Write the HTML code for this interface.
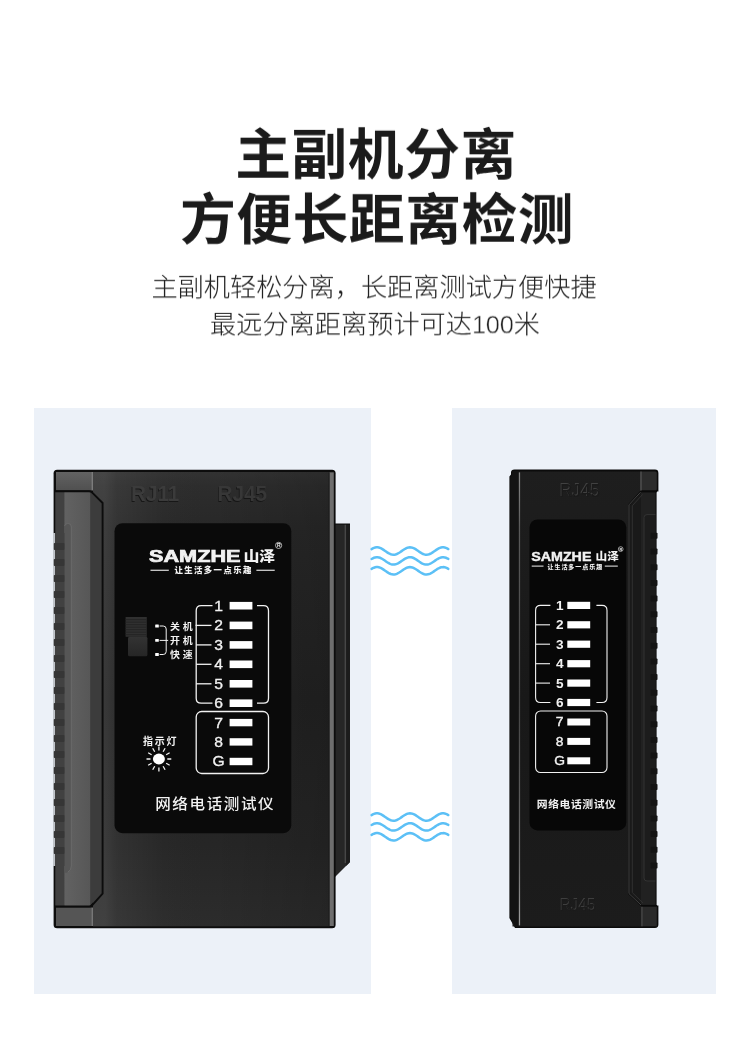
<!DOCTYPE html>
<html lang="zh-CN">
<head>
<meta charset="utf-8">
<title>主副机分离 方便长距离检测</title>
<style>
html,body{margin:0;padding:0;background:#fff;}
body{width:750px;height:1040px;position:relative;overflow:hidden;font-family:"Liberation Sans","Noto Sans CJK SC",sans-serif;}
.t{position:absolute;left:0;width:750px;text-align:center;white-space:nowrap;color:#1b1b1b;will-change:transform;}
.h1{font-weight:700;font-size:55.8px;line-height:66px;letter-spacing:0.5px;transform:scaleY(0.977);transform-origin:50% 0;}
.sub{font-weight:300;font-size:26.2px;line-height:38px;color:#222;transform:scaleY(0.977);transform-origin:50% 0;}
.n{font-size:25.4px;-webkit-text-stroke:0.45px #fff;letter-spacing:-0.2px;}
.panel{position:absolute;background:#ecf1f8;}
svg{position:absolute;left:0;top:0;will-change:transform;}
svg text{font-family:"Liberation Sans","Noto Sans CJK SC",sans-serif;}
</style>
</head>
<body>
<div class="t h1" style="top:123px;left:1.2px;">主副机分离</div>
<div class="t h1" style="top:188.4px;left:1.5px;">方便长距离检测</div>
<div class="t sub" style="top:269.35px;left:-0.9px;">主副机轻松分离，长距离测试方便快捷</div>
<div class="t sub" style="top:306.35px;left:-0.4px;">最远分离距离预计可达<span class="n">100</span>米</div>
<div class="panel" style="left:34px;top:407.7px;width:336.8px;height:586.7px;"></div>
<div class="panel" style="left:452px;top:407.7px;width:263.8px;height:586.7px;"></div>

<svg width="750" height="1040" viewBox="0 0 750 1040">
<defs>
<linearGradient id="lbody" x1="0" y1="0" x2="0" y2="1">
<stop offset="0" stop-color="#323232"/><stop offset="0.03" stop-color="#2d2d2d"/><stop offset="0.12" stop-color="#282828"/><stop offset="0.5" stop-color="#222222"/><stop offset="0.82" stop-color="#262626"/><stop offset="1" stop-color="#2c2c2c"/>
</linearGradient>
<linearGradient id="lbodyx" x1="0" y1="0" x2="1" y2="0">
<stop offset="0" stop-color="#fff" stop-opacity="0.10"/><stop offset="0.05" stop-color="#fff" stop-opacity="0.10"/><stop offset="0.1" stop-color="#fff" stop-opacity="0.055"/><stop offset="0.3" stop-color="#fff" stop-opacity="0.01"/><stop offset="0.5" stop-color="#000" stop-opacity="0"/><stop offset="1" stop-color="#000" stop-opacity="0.14"/>
</linearGradient>
<linearGradient id="lcap" x1="0" y1="0" x2="0" y2="1">
<stop offset="0" stop-color="#626262"/><stop offset="1" stop-color="#505050"/>
</linearGradient>
<linearGradient id="lstrip" x1="0" y1="0" x2="1" y2="0">
<stop offset="0" stop-color="#626262"/><stop offset="1" stop-color="#575757"/>
</linearGradient>
<linearGradient id="swg" x1="0" y1="0" x2="0" y2="1">
<stop offset="0" stop-color="#333"/><stop offset="1" stop-color="#262626"/>
</linearGradient>
<linearGradient id="rhl" x1="0" y1="0" x2="0" y2="1">
<stop offset="0" stop-color="#8a8a8a"/><stop offset="0.12" stop-color="#5a5a5a"/><stop offset="0.5" stop-color="#444"/><stop offset="0.85" stop-color="#6a6a6a"/><stop offset="1" stop-color="#a0a0a0"/>
</linearGradient>
<linearGradient id="rbody" x1="0" y1="0" x2="0" y2="1">
<stop offset="0" stop-color="#1e1e1e"/><stop offset="0.5" stop-color="#181818"/><stop offset="1" stop-color="#1c1c1c"/>
</linearGradient>
</defs>
<path d="M371.6 549.09 L372.8 548.42 L374.0 547.89 L375.2 547.52 L376.4 547.32 L377.6 547.32 L378.8 547.51 L380.0 547.88 L381.2 548.42 L382.4 549.08 L383.6 549.85 L384.8 550.67 L386.0 551.51 L387.2 552.33 L388.4 553.08 L389.6 553.71 L390.8 554.21 L392.0 554.54 L393.2 554.69 L394.4 554.65 L395.6 554.42 L396.8 554.01 L398.0 553.44 L399.2 552.75 L400.4 551.97 L401.6 551.13 L402.8 550.29 L404.0 549.49 L405.2 548.77 L406.4 548.16 L407.6 547.69 L408.8 547.40 L410.0 547.30 L411.1 547.39 L412.3 547.66 L413.5 548.11 L414.7 548.71 L415.9 549.43 L417.1 550.22 L418.3 551.06 L419.5 551.90 L420.7 552.69 L421.9 553.39 L423.1 553.97 L424.3 554.39 L425.5 554.64 L426.7 554.70 L427.9 554.56 L429.1 554.25 L430.3 553.76 L431.5 553.13 L432.7 552.39 L433.9 551.58 L435.1 550.74 L436.3 549.91 L437.5 549.14 L438.7 548.47 L439.9 547.92 L441.1 547.54 L442.3 547.33 L443.5 547.32 L444.7 547.49 L445.9 547.85 L447.1 548.37 L448.3 549.03" fill="none" stroke="#5cc0f6" stroke-width="2.5" stroke-linecap="round"/>
<path d="M371.6 558.99 L372.8 558.32 L374.0 557.79 L375.2 557.42 L376.4 557.22 L377.6 557.22 L378.8 557.41 L380.0 557.78 L381.2 558.32 L382.4 558.98 L383.6 559.75 L384.8 560.57 L386.0 561.41 L387.2 562.23 L388.4 562.98 L389.6 563.61 L390.8 564.11 L392.0 564.44 L393.2 564.59 L394.4 564.55 L395.6 564.32 L396.8 563.91 L398.0 563.34 L399.2 562.65 L400.4 561.87 L401.6 561.03 L402.8 560.19 L404.0 559.39 L405.2 558.67 L406.4 558.06 L407.6 557.59 L408.8 557.30 L410.0 557.20 L411.1 557.29 L412.3 557.56 L413.5 558.01 L414.7 558.61 L415.9 559.33 L417.1 560.12 L418.3 560.96 L419.5 561.80 L420.7 562.59 L421.9 563.29 L423.1 563.87 L424.3 564.29 L425.5 564.54 L426.7 564.60 L427.9 564.46 L429.1 564.15 L430.3 563.66 L431.5 563.03 L432.7 562.29 L433.9 561.48 L435.1 560.64 L436.3 559.81 L437.5 559.04 L438.7 558.37 L439.9 557.82 L441.1 557.44 L442.3 557.23 L443.5 557.22 L444.7 557.39 L445.9 557.75 L447.1 558.27 L448.3 558.93" fill="none" stroke="#5cc0f6" stroke-width="2.5" stroke-linecap="round"/>
<path d="M371.6 568.89 L372.8 568.22 L374.0 567.69 L375.2 567.32 L376.4 567.12 L377.6 567.12 L378.8 567.31 L380.0 567.68 L381.2 568.22 L382.4 568.88 L383.6 569.65 L384.8 570.47 L386.0 571.31 L387.2 572.13 L388.4 572.88 L389.6 573.51 L390.8 574.01 L392.0 574.34 L393.2 574.49 L394.4 574.45 L395.6 574.22 L396.8 573.81 L398.0 573.24 L399.2 572.55 L400.4 571.77 L401.6 570.93 L402.8 570.09 L404.0 569.29 L405.2 568.57 L406.4 567.96 L407.6 567.49 L408.8 567.20 L410.0 567.10 L411.1 567.19 L412.3 567.46 L413.5 567.91 L414.7 568.51 L415.9 569.23 L417.1 570.02 L418.3 570.86 L419.5 571.70 L420.7 572.49 L421.9 573.19 L423.1 573.77 L424.3 574.19 L425.5 574.44 L426.7 574.50 L427.9 574.36 L429.1 574.05 L430.3 573.56 L431.5 572.93 L432.7 572.19 L433.9 571.38 L435.1 570.54 L436.3 569.71 L437.5 568.94 L438.7 568.27 L439.9 567.72 L441.1 567.34 L442.3 567.13 L443.5 567.12 L444.7 567.29 L445.9 567.65 L447.1 568.17 L448.3 568.83" fill="none" stroke="#5cc0f6" stroke-width="2.5" stroke-linecap="round"/>

<path d="M371.6 815.09 L372.8 814.42 L374.0 813.89 L375.2 813.52 L376.4 813.32 L377.6 813.32 L378.8 813.51 L380.0 813.88 L381.2 814.42 L382.4 815.08 L383.6 815.85 L384.8 816.67 L386.0 817.51 L387.2 818.33 L388.4 819.08 L389.6 819.71 L390.8 820.21 L392.0 820.54 L393.2 820.69 L394.4 820.65 L395.6 820.42 L396.8 820.01 L398.0 819.44 L399.2 818.75 L400.4 817.97 L401.6 817.13 L402.8 816.29 L404.0 815.49 L405.2 814.77 L406.4 814.16 L407.6 813.69 L408.8 813.40 L410.0 813.30 L411.1 813.39 L412.3 813.66 L413.5 814.11 L414.7 814.71 L415.9 815.43 L417.1 816.22 L418.3 817.06 L419.5 817.90 L420.7 818.69 L421.9 819.39 L423.1 819.97 L424.3 820.39 L425.5 820.64 L426.7 820.70 L427.9 820.56 L429.1 820.25 L430.3 819.76 L431.5 819.13 L432.7 818.39 L433.9 817.58 L435.1 816.74 L436.3 815.91 L437.5 815.14 L438.7 814.47 L439.9 813.92 L441.1 813.54 L442.3 813.33 L443.5 813.32 L444.7 813.49 L445.9 813.85 L447.1 814.37 L448.3 815.03" fill="none" stroke="#5cc0f6" stroke-width="2.5" stroke-linecap="round"/>
<path d="M371.6 824.99 L372.8 824.32 L374.0 823.79 L375.2 823.42 L376.4 823.22 L377.6 823.22 L378.8 823.41 L380.0 823.78 L381.2 824.32 L382.4 824.98 L383.6 825.75 L384.8 826.57 L386.0 827.41 L387.2 828.23 L388.4 828.98 L389.6 829.61 L390.8 830.11 L392.0 830.44 L393.2 830.59 L394.4 830.55 L395.6 830.32 L396.8 829.91 L398.0 829.34 L399.2 828.65 L400.4 827.87 L401.6 827.03 L402.8 826.19 L404.0 825.39 L405.2 824.67 L406.4 824.06 L407.6 823.59 L408.8 823.30 L410.0 823.20 L411.1 823.29 L412.3 823.56 L413.5 824.01 L414.7 824.61 L415.9 825.33 L417.1 826.12 L418.3 826.96 L419.5 827.80 L420.7 828.59 L421.9 829.29 L423.1 829.87 L424.3 830.29 L425.5 830.54 L426.7 830.60 L427.9 830.46 L429.1 830.15 L430.3 829.66 L431.5 829.03 L432.7 828.29 L433.9 827.48 L435.1 826.64 L436.3 825.81 L437.5 825.04 L438.7 824.37 L439.9 823.82 L441.1 823.44 L442.3 823.23 L443.5 823.22 L444.7 823.39 L445.9 823.75 L447.1 824.27 L448.3 824.93" fill="none" stroke="#5cc0f6" stroke-width="2.5" stroke-linecap="round"/>
<path d="M371.6 834.89 L372.8 834.22 L374.0 833.69 L375.2 833.32 L376.4 833.12 L377.6 833.12 L378.8 833.31 L380.0 833.68 L381.2 834.22 L382.4 834.88 L383.6 835.65 L384.8 836.47 L386.0 837.31 L387.2 838.13 L388.4 838.88 L389.6 839.51 L390.8 840.01 L392.0 840.34 L393.2 840.49 L394.4 840.45 L395.6 840.22 L396.8 839.81 L398.0 839.24 L399.2 838.55 L400.4 837.77 L401.6 836.93 L402.8 836.09 L404.0 835.29 L405.2 834.57 L406.4 833.96 L407.6 833.49 L408.8 833.20 L410.0 833.10 L411.1 833.19 L412.3 833.46 L413.5 833.91 L414.7 834.51 L415.9 835.23 L417.1 836.02 L418.3 836.86 L419.5 837.70 L420.7 838.49 L421.9 839.19 L423.1 839.77 L424.3 840.19 L425.5 840.44 L426.7 840.50 L427.9 840.36 L429.1 840.05 L430.3 839.56 L431.5 838.93 L432.7 838.19 L433.9 837.38 L435.1 836.54 L436.3 835.71 L437.5 834.94 L438.7 834.27 L439.9 833.72 L441.1 833.34 L442.3 833.13 L443.5 833.12 L444.7 833.29 L445.9 833.65 L447.1 834.17 L448.3 834.83" fill="none" stroke="#5cc0f6" stroke-width="2.5" stroke-linecap="round"/>

<g id="left-device">
<path d="M334 524 H350 V862 L334 878 Z" fill="#262626"/>
<rect x="344.6" y="524" width="1.6" height="339" fill="#474747"/>
<path d="M346.2 524 H350 V862 L346.2 866 Z" fill="#1c1c1c"/>
<rect x="334" y="523.5" width="16" height="1.2" fill="#111"/>
<rect x="53.6" y="469.8" width="282" height="458.4" rx="3.5" fill="#0d0d0d"/>
<rect x="93" y="472" width="236.5" height="454.3" fill="url(#lbody)"/>
<rect x="93" y="472" width="236.5" height="454.3" fill="url(#lbodyx)"/>
<rect x="329.2" y="472.3" width="4.6" height="453.7" fill="#6e6e6e"/>
<rect x="328.6" y="472.3" width="1" height="453.7" fill="#1a1a1a"/>
<path d="M55.5 491 H90 L101.6 502.6 V894 L90 905.6 H55.5 Z" fill="#3c3c3c"/>
<rect x="55.5" y="491" width="9" height="415" fill="#414141"/>
<rect x="64.4" y="491" width="25.8" height="415" fill="url(#lstrip)"/>
<path d="M64.4 872 V527 Q64.4 523.5 67.5 523.5 H68.5 Q71.4 523.5 71.4 527 V866 Q71.4 871 66 873 Z" fill="#565656"/>
<path d="M64.6 526 Q65 523.6 67.5 523.6 H68.5 Q71.3 523.6 71.3 527 V866 Q71.3 870 68 872" fill="none" stroke="#717171" stroke-width="0.7"/>
<rect x="55" y="533" width="9.5" height="333" fill="#414141"/>
<rect x="53.5" y="533" width="1.3" height="333" fill="#ecf1f8"/>
<rect x="53.8" y="543.0" width="10.6" height="7" rx="0.8" fill="#363636"/>
<rect x="53.8" y="559.0" width="10.6" height="7" rx="0.8" fill="#363636"/>
<rect x="53.8" y="575.0" width="10.6" height="7" rx="0.8" fill="#363636"/>
<rect x="53.8" y="591.0" width="10.6" height="7" rx="0.8" fill="#363636"/>
<rect x="53.8" y="607.0" width="10.6" height="7" rx="0.8" fill="#363636"/>
<rect x="53.8" y="623.0" width="10.6" height="7" rx="0.8" fill="#363636"/>
<rect x="53.8" y="639.0" width="10.6" height="7" rx="0.8" fill="#363636"/>
<rect x="53.8" y="655.0" width="10.6" height="7" rx="0.8" fill="#363636"/>
<rect x="53.8" y="671.0" width="10.6" height="7" rx="0.8" fill="#363636"/>
<rect x="53.8" y="687.0" width="10.6" height="7" rx="0.8" fill="#363636"/>
<rect x="53.8" y="703.0" width="10.6" height="7" rx="0.8" fill="#363636"/>
<rect x="53.8" y="719.0" width="10.6" height="7" rx="0.8" fill="#363636"/>
<rect x="53.8" y="735.0" width="10.6" height="7" rx="0.8" fill="#363636"/>
<rect x="53.8" y="751.0" width="10.6" height="7" rx="0.8" fill="#363636"/>
<rect x="53.8" y="767.0" width="10.6" height="7" rx="0.8" fill="#363636"/>
<rect x="53.8" y="783.0" width="10.6" height="7" rx="0.8" fill="#363636"/>
<rect x="53.8" y="799.0" width="10.6" height="7" rx="0.8" fill="#363636"/>
<rect x="53.8" y="815.0" width="10.6" height="7" rx="0.8" fill="#363636"/>
<rect x="53.8" y="831.0" width="10.6" height="7" rx="0.8" fill="#363636"/>
<rect x="53.8" y="847.0" width="10.6" height="7" rx="0.8" fill="#363636"/>
<rect x="56" y="472" width="36.5" height="18.4" fill="url(#lcap)"/>
<rect x="91.6" y="472" width="1.4" height="18.4" fill="#7c7c7c"/>
<rect x="56" y="907.6" width="36.5" height="18.4" fill="#555"/>
<rect x="91.6" y="907.6" width="1.4" height="18.4" fill="#777"/>
<path d="M54.5 491.3 H89 Q91 491.3 92.5 492.8 L102.6 503 V893.6 L92.5 904.8 Q91 906.4 89 906.4 H54.5" fill="none" stroke="#0c0c0c" stroke-width="1.9"/>
<text x="0" y="0" font-size="21.8" font-weight="700" fill="#171717" transform="translate(130.3 501.6) scale(0.95 1)">RJ11</text>
<text x="0" y="0" font-size="21.8" font-weight="700" fill="#3b3b3b" transform="translate(131 501.2) scale(0.95 1)">RJ11</text>
<text x="0" y="0" font-size="21.8" font-weight="700" fill="#161616" transform="translate(216.9 501.6) scale(0.95 1)">RJ45</text>
<text x="0" y="0" font-size="21.8" font-weight="700" fill="#373737" transform="translate(217.6 501.2) scale(0.95 1)">RJ45</text>
<rect x="114.5" y="523.2" width="176.8" height="310" rx="8" fill="#0a0a0a"/>
<text x="0" y="0" font-size="16" font-weight="700" fill="#f2f2f2" stroke="#f2f2f2" stroke-width="0.7" transform="translate(149 562) scale(1.355 1)">SAMZHE</text>
<text x="0" y="0" font-size="13.6" font-weight="900" fill="#f2f2f2" transform="translate(243.4 560.9) scale(1.17 1)">山泽</text>
<circle cx="278.6" cy="545.4" r="3.1" fill="none" stroke="#f2f2f2" stroke-width="0.7"/>
<text x="278.7" y="547.2" font-size="5" font-weight="700" fill="#f2f2f2" text-anchor="middle">R</text>
<rect x="150.5" y="569.7" width="18.3" height="1.1" fill="#f2f2f2"/>
<rect x="256.4" y="569.7" width="18.3" height="1.1" fill="#f2f2f2"/>
<text x="174.4" y="573.4" font-size="8.4" font-weight="900" fill="#f2f2f2" textLength="77" lengthAdjust="spacing">让生活多一点乐趣</text>
<rect x="229.6" y="601.9" width="22.8" height="7.6" fill="#fff"/>
<text x="218.6" y="610.7" font-size="14" font-weight="400" fill="#f2f2f2" text-anchor="middle" stroke="#f2f2f2" stroke-width="0.3" transform="translate(218.6 0) scale(1.12 1) translate(-218.6 0)">1</text>
<rect x="229.6" y="621.6" width="22.8" height="7.6" fill="#fff"/>
<text x="218.6" y="630.4" font-size="14" font-weight="400" fill="#f2f2f2" text-anchor="middle" stroke="#f2f2f2" stroke-width="0.3" transform="translate(218.6 0) scale(1.12 1) translate(-218.6 0)">2</text>
<rect x="229.6" y="641.1" width="22.8" height="7.6" fill="#fff"/>
<text x="218.6" y="649.9" font-size="14" font-weight="400" fill="#f2f2f2" text-anchor="middle" stroke="#f2f2f2" stroke-width="0.3" transform="translate(218.6 0) scale(1.12 1) translate(-218.6 0)">3</text>
<rect x="229.6" y="660.5" width="22.8" height="7.6" fill="#fff"/>
<text x="218.6" y="669.3" font-size="14" font-weight="400" fill="#f2f2f2" text-anchor="middle" stroke="#f2f2f2" stroke-width="0.3" transform="translate(218.6 0) scale(1.12 1) translate(-218.6 0)">4</text>
<rect x="229.6" y="680.0" width="22.8" height="7.6" fill="#fff"/>
<text x="218.6" y="688.8" font-size="14" font-weight="400" fill="#f2f2f2" text-anchor="middle" stroke="#f2f2f2" stroke-width="0.3" transform="translate(218.6 0) scale(1.12 1) translate(-218.6 0)">5</text>
<rect x="229.6" y="699.4" width="22.8" height="7.6" fill="#fff"/>
<text x="218.6" y="708.2" font-size="14" font-weight="400" fill="#f2f2f2" text-anchor="middle" stroke="#f2f2f2" stroke-width="0.3" transform="translate(218.6 0) scale(1.12 1) translate(-218.6 0)">6</text>
<rect x="229.6" y="718.9" width="22.8" height="7.4" fill="#fff"/>
<text x="218.6" y="727.6" font-size="14" font-weight="400" fill="#f2f2f2" stroke="#f2f2f2" stroke-width="0.3" text-anchor="middle" transform="translate(218.6 0) scale(1.12 1) translate(-218.6 0)">7</text>
<rect x="229.6" y="738.2" width="22.8" height="7.4" fill="#fff"/>
<text x="218.6" y="746.9" font-size="14" font-weight="400" fill="#f2f2f2" stroke="#f2f2f2" stroke-width="0.3" text-anchor="middle" transform="translate(218.6 0) scale(1.12 1) translate(-218.6 0)">8</text>
<rect x="229.6" y="757.8" width="22.8" height="7.4" fill="#fff"/>
<text x="218.6" y="766.5" font-size="14" font-weight="400" fill="#f2f2f2" stroke="#f2f2f2" stroke-width="0.3" text-anchor="middle" transform="translate(218.6 0) scale(1.12 1) translate(-218.6 0)">G</text>
<path d="M212.5 605.7 H201.2 Q196.2 605.7 196.2 610.7 V698.2 Q196.2 703.2 201.2 703.2 H212.5" fill="none" stroke="#f2f2f2" stroke-width="1.3"/>
<path d="M195.6 625.4 H211.5" stroke="#f2f2f2" stroke-width="1.3" fill="none"/>
<path d="M196.2 644.9 H211.5" stroke="#f2f2f2" stroke-width="1.3" fill="none"/>
<path d="M196.2 664.3 H211.5" stroke="#f2f2f2" stroke-width="1.3" fill="none"/>
<path d="M196.2 683.8 H211.5" stroke="#f2f2f2" stroke-width="1.3" fill="none"/>
<path d="M257 605.7 H263.5 Q268.5 605.7 268.5 610.7 V698.2 Q268.5 703.2 263.5 703.2 H257" fill="none" stroke="#f2f2f2" stroke-width="1.3"/>
<rect x="196.2" y="711.5" width="72.3" height="62" rx="5.5" fill="none" stroke="#f2f2f2" stroke-width="1.3"/>
<rect x="125.6" y="617" width="21.2" height="19.8" fill="#303030"/>
<rect x="125.6" y="619.2" width="21.2" height="1" fill="#242424"/>
<rect x="125.6" y="621.7" width="21.2" height="1" fill="#242424"/>
<rect x="125.6" y="624.2" width="21.2" height="1" fill="#242424"/>
<rect x="125.6" y="626.7" width="21.2" height="1" fill="#242424"/>
<rect x="125.6" y="629.2" width="21.2" height="1" fill="#242424"/>
<rect x="125.6" y="631.7" width="21.2" height="1" fill="#242424"/>
<rect x="125.6" y="634.2" width="21.2" height="1" fill="#242424"/>
<rect x="128" y="636.8" width="19.4" height="19.4" rx="1.5" fill="url(#swg)"/>
<rect x="155.2" y="624.6" width="3.6" height="2.8" rx="0.5" fill="#fff"/>
<rect x="155.2" y="639.0" width="3.6" height="2.8" rx="0.5" fill="#fff"/>
<rect x="155.2" y="653.1" width="3.6" height="2.8" rx="0.5" fill="#fff"/>
<path d="M159.6 626 H163.2 Q166.2 626 166.2 629 V651.5 Q166.2 654.5 163.2 654.5 H159.6 M159.6 640.4 H168.2" fill="none" stroke="#f2f2f2" stroke-width="1"/>
<text x="0" y="0" font-size="8.8" font-weight="700" fill="#f2f2f2" letter-spacing="2.4" transform="translate(170 629.6) scale(1.13 1)">关机</text>
<text x="0" y="0" font-size="8.8" font-weight="700" fill="#f2f2f2" letter-spacing="2.4" transform="translate(170 643.7) scale(1.13 1)">开机</text>
<text x="0" y="0" font-size="8.8" font-weight="700" fill="#f2f2f2" letter-spacing="2.4" transform="translate(170 658.0) scale(1.13 1)">快速</text>
<text x="143" y="744.6" font-size="10" font-weight="700" fill="#f2f2f2" textLength="33.4" lengthAdjust="spacing">指示灯</text>
<ellipse cx="158.9" cy="759.0" rx="6" ry="5.4" fill="#fff"/>
<path d="M167.30 759.00 L171.30 759.00 M166.17 763.20 L169.64 765.20 M163.10 766.27 L165.10 769.74 M158.90 767.40 L158.90 771.40 M154.70 766.27 L152.70 769.74 M151.63 763.20 L148.16 765.20 M150.50 759.00 L146.50 759.00 M151.63 754.80 L148.16 752.80 M154.70 751.73 L152.70 748.26 M158.90 750.60 L158.90 746.60 M163.10 751.73 L165.10 748.26 M166.17 754.80 L169.64 752.80" stroke="#f2f2f2" stroke-width="1.3" fill="none"/>
<text x="0" y="0" font-size="14.4" font-weight="500" fill="#f2f2f2" letter-spacing="1.5" transform="translate(155.2 809.2) scale(1.08 1)">网络电话测试仪</text>
</g>
<g id="right-device">
<path d="M514.5 469.6 H655 Q658.4 469.6 658.4 473 V491.6 H656.6 V905.4 H658.4 V924.6 Q658.4 928 655 928 H515 L509.4 918 V476.5 L511 474.5 V472.5 Q511 469.6 514.5 469.6 Z" fill="#0b0b0b"/>
<rect x="512.5" y="471.5" width="129" height="455" fill="url(#rbody)"/>
<rect x="518.6" y="472.4" width="1.5" height="453" fill="url(#rhl)"/>
<path d="M510.2 477 V917.6 L515.2 926.4 H518.6 V471.6 H511.8 V475 Z" fill="#131313"/>
<path d="M629 505 L640.5 492 H655.4 V905 H641.5 L629 893.5 Z" fill="#191919"/>
<rect x="641" y="492.4" width="14.4" height="412.4" fill="#212121"/>
<rect x="640.5" y="471.5" width="16.3" height="19" rx="1.5" fill="#2c2c2c"/>
<rect x="640.2" y="471.5" width="1.6" height="19.5" fill="#4c4c4c"/>
<rect x="641.8" y="906.5" width="15" height="19.8" fill="#2a2a2a"/>
<rect x="641.2" y="906.5" width="1.4" height="19.8" fill="#484848"/>
<path d="M657 491.4 H641 L629 504.6 V893.8 L641.6 905.8 H657" fill="none" stroke="#0a0a0a" stroke-width="1.6"/>
<path d="M640.6 492.2 L629 504.8 V893.6 L641 905" fill="none" stroke="#444" stroke-width="1"/>
<path d="M642.5 494.5 L632.3 505.8 V892.6 L643 903" fill="none" stroke="#303030" stroke-width="1"/>
<path d="M655.4 514.6 H647 Q644 514.6 644 517.6 V878 Q644 881 647 881 H655.4" fill="#1c1c1c" stroke="#333" stroke-width="1"/>
<rect x="650.5" y="532.8" width="7" height="6" rx="0.8" fill="#141414"/>
<rect x="650.5" y="548.5" width="7" height="6" rx="0.8" fill="#141414"/>
<rect x="650.5" y="564.2" width="7" height="6" rx="0.8" fill="#141414"/>
<rect x="650.5" y="579.9" width="7" height="6" rx="0.8" fill="#141414"/>
<rect x="650.5" y="595.6" width="7" height="6" rx="0.8" fill="#141414"/>
<rect x="650.5" y="611.3" width="7" height="6" rx="0.8" fill="#141414"/>
<rect x="650.5" y="627.0" width="7" height="6" rx="0.8" fill="#141414"/>
<rect x="650.5" y="642.7" width="7" height="6" rx="0.8" fill="#141414"/>
<rect x="650.5" y="658.4" width="7" height="6" rx="0.8" fill="#141414"/>
<rect x="650.5" y="674.1" width="7" height="6" rx="0.8" fill="#141414"/>
<rect x="650.5" y="689.8" width="7" height="6" rx="0.8" fill="#141414"/>
<rect x="650.5" y="705.5" width="7" height="6" rx="0.8" fill="#141414"/>
<rect x="650.5" y="721.2" width="7" height="6" rx="0.8" fill="#141414"/>
<rect x="650.5" y="736.9" width="7" height="6" rx="0.8" fill="#141414"/>
<rect x="650.5" y="752.6" width="7" height="6" rx="0.8" fill="#141414"/>
<rect x="650.5" y="768.3" width="7" height="6" rx="0.8" fill="#141414"/>
<rect x="650.5" y="784.0" width="7" height="6" rx="0.8" fill="#141414"/>
<rect x="650.5" y="799.7" width="7" height="6" rx="0.8" fill="#141414"/>
<rect x="650.5" y="815.4" width="7" height="6" rx="0.8" fill="#141414"/>
<rect x="650.5" y="831.1" width="7" height="6" rx="0.8" fill="#141414"/>
<rect x="650.5" y="846.8" width="7" height="6" rx="0.8" fill="#141414"/>
<rect x="650.5" y="862.5" width="7" height="6" rx="0.8" fill="#141414"/>
<text x="559.2" y="496.3" font-size="19" font-weight="400" fill="#414141" textLength="40" lengthAdjust="spacingAndGlyphs">RJ45</text>
<text x="560" y="496.5" font-size="19" font-weight="400" fill="#1a1a1a" textLength="40" lengthAdjust="spacingAndGlyphs">RJ45</text>
<text x="559.4" y="910.4" font-size="17.3" font-weight="400" fill="#3e3e3e" textLength="36" lengthAdjust="spacingAndGlyphs">RJ45</text>
<text x="560.2" y="910.6" font-size="17.3" font-weight="400" fill="#1b1b1b" textLength="36" lengthAdjust="spacingAndGlyphs">RJ45</text>
<rect x="529.5" y="519.4" width="96.8" height="311" rx="8" fill="#070707"/>
<text x="0" y="0" font-size="12" font-weight="700" fill="#f2f2f2" stroke="#f2f2f2" stroke-width="0.4" transform="translate(531.2 560.8) scale(1.19 1)">SAMZHE</text>
<text x="0" y="0" font-size="10.4" font-weight="900" fill="#f2f2f2" transform="translate(595.6 560) scale(1.12 1)">山泽</text>
<circle cx="620.7" cy="549.1" r="2.4" fill="none" stroke="#f2f2f2" stroke-width="0.6"/>
<text x="620.8" y="550.5" font-size="3.8" font-weight="700" fill="#f2f2f2" text-anchor="middle">R</text>
<rect x="531.7" y="565.6" width="11.8" height="1" fill="#f2f2f2"/>
<rect x="604.8" y="565.6" width="13" height="1" fill="#f2f2f2"/>
<text x="547.5" y="568.6" font-size="6" font-weight="900" fill="#f2f2f2" letter-spacing="0.95">让生活多一点乐趣</text>
<rect x="567.3" y="601.8" width="22.9" height="7.2" fill="#fff"/>
<text x="559.8" y="609.9" font-size="12.6" font-weight="700" fill="#f2f2f2" text-anchor="middle" transform="translate(559.8 0) scale(1.08 1) translate(-559.8 0)">1</text>
<rect x="567.3" y="621.2" width="22.9" height="7.2" fill="#fff"/>
<text x="559.8" y="629.3" font-size="12.6" font-weight="700" fill="#f2f2f2" text-anchor="middle" transform="translate(559.8 0) scale(1.08 1) translate(-559.8 0)">2</text>
<rect x="567.3" y="640.6" width="22.9" height="7.2" fill="#fff"/>
<text x="559.8" y="648.7" font-size="12.6" font-weight="700" fill="#f2f2f2" text-anchor="middle" transform="translate(559.8 0) scale(1.08 1) translate(-559.8 0)">3</text>
<rect x="567.3" y="660.1" width="22.9" height="7.2" fill="#fff"/>
<text x="559.8" y="668.2" font-size="12.6" font-weight="700" fill="#f2f2f2" text-anchor="middle" transform="translate(559.8 0) scale(1.08 1) translate(-559.8 0)">4</text>
<rect x="567.3" y="679.5" width="22.9" height="7.2" fill="#fff"/>
<text x="559.8" y="687.6" font-size="12.6" font-weight="700" fill="#f2f2f2" text-anchor="middle" transform="translate(559.8 0) scale(1.08 1) translate(-559.8 0)">5</text>
<rect x="567.3" y="698.9" width="22.9" height="7.2" fill="#fff"/>
<text x="559.8" y="707.0" font-size="12.6" font-weight="700" fill="#f2f2f2" text-anchor="middle" transform="translate(559.8 0) scale(1.08 1) translate(-559.8 0)">6</text>
<rect x="567.3" y="718.5" width="22.9" height="7" fill="#fff"/>
<text x="559.6" y="726.5" font-size="12.6" font-weight="400" fill="#f2f2f2" stroke="#f2f2f2" stroke-width="0.35" text-anchor="middle" transform="translate(559.6 0) scale(1.1 1) translate(-559.6 0)">7</text>
<rect x="567.3" y="737.9" width="22.9" height="7" fill="#fff"/>
<text x="559.6" y="745.9" font-size="12.6" font-weight="400" fill="#f2f2f2" stroke="#f2f2f2" stroke-width="0.35" text-anchor="middle" transform="translate(559.6 0) scale(1.1 1) translate(-559.6 0)">8</text>
<rect x="567.3" y="757.3" width="22.9" height="7" fill="#fff"/>
<text x="559.6" y="765.3" font-size="12.6" font-weight="400" fill="#f2f2f2" stroke="#f2f2f2" stroke-width="0.35" text-anchor="middle" transform="translate(559.6 0) scale(1.1 1) translate(-559.6 0)">G</text>
<path d="M550.4 605.4 H540.6 Q535.6 605.4 535.6 610.4 V697.5 Q535.6 702.5 540.6 702.5 H550.4" fill="none" stroke="#f2f2f2" stroke-width="1.1"/>
<path d="M535.6 624.8 H550" stroke="#f2f2f2" stroke-width="1.1" fill="none"/>
<path d="M535.6 644.2 H550" stroke="#f2f2f2" stroke-width="1.1" fill="none"/>
<path d="M535.6 663.7 H550" stroke="#f2f2f2" stroke-width="1.1" fill="none"/>
<path d="M535.6 683.1 H550" stroke="#f2f2f2" stroke-width="1.1" fill="none"/>
<path d="M596.4 605.4 H602.0 Q607.0 605.4 607.0 610.4 V697.5 Q607.0 702.5 602.0 702.5 H596.4" fill="none" stroke="#f2f2f2" stroke-width="1.1"/>
<rect x="535.6" y="711" width="71.4" height="61.5" rx="5" fill="none" stroke="#f2f2f2" stroke-width="1.1"/>
<text x="0" y="0" font-size="10.2" font-weight="700" fill="#f2f2f2" letter-spacing="0.55" transform="translate(536.8 807.6) scale(1.06 1)">网络电话测试仪</text>
</g>
</svg>
</body>
</html>
